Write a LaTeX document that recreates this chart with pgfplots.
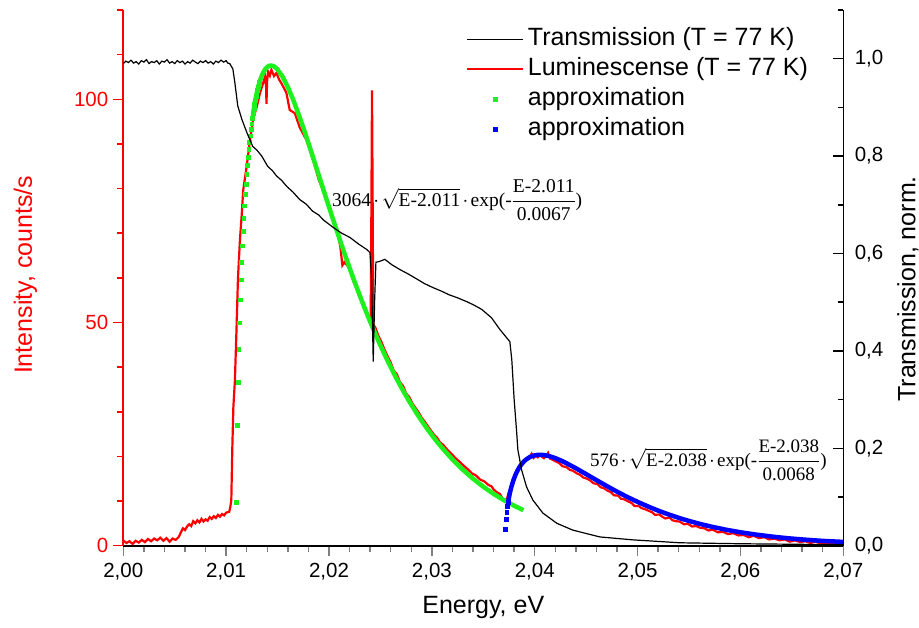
\documentclass[border=0pt]{standalone}
\usepackage{pgfplots}
\pgfplotsset{compat=1.18}
\usepackage{fontspec}
\setmainfont{Liberation Sans}
\newfontfamily\tms{Liberation Serif}
\definecolor{fitgreen}{RGB}{30,240,30}
\definecolor{fitblue}{RGB}{0,0,255}
\newcommand{\cd}{\mkern2mu{\cdot}\mkern2mu}
\pgfplotsset{dotlegend/.style={legend image code/.code={\draw[##1] plot coordinates {(28bp,0bp)};}}}
\begin{document}
\begin{tikzpicture}
\path[use as bounding box] (-123.3bp,-82.3bp) rectangle (795.7bp,545.7bp);
\begin{axis}[
  at={(0,0)}, anchor=south west,
  scale only axis, width=720bp, height=535.7bp,
  xmin=2, xmax=2.07, ymin=0, ymax=120,
  axis x line*=bottom, axis y line*=left,
  axis line style={-, line width=1.6bp},
  y axis line style={red},
  tick align=outside,
  xtick={2,2.01,2.02,2.03,2.04,2.05,2.06,2.07},
  minor x tick num=4,
  ytick={0,50,100},
  minor ytick={10,20,30,40,60,70,80,90,110,120},
  major tick length=10bp, minor tick length=6bp,
  tick style={line width=1.5bp},
  ytick style={red},
  scaled ticks=false,
  /pgf/number format/assume math mode=true,
  tick label style={font=\fontsize{20.5bp}{24bp}\selectfont},
  xticklabel style={/pgf/number format/fixed, /pgf/number format/fixed zerofill, /pgf/number format/precision=2, /pgf/number format/use comma, yshift=-4bp},
  yticklabel style={red, xshift=-1.5bp},
  xlabel={Energy, eV}, ylabel={Intensity, counts/s},
  every axis x label/.style={at={(axis description cs:0.5,0)}, anchor=center, yshift=-62bp, font=\fontsize{25bp}{30bp}\selectfont},
  every axis y label/.style={at={(axis description cs:0,0.5)}, anchor=center, rotate=90, yshift=98bp, xshift=3bp, red, font=\fontsize{25bp}{30bp}\selectfont},
  legend image code/.code={\draw[#1] (0bp,0bp) -- (56bp,0bp);},
  legend cell align=left,
  legend style={draw=none, fill=none, at={(0.476,0.974)}, anchor=north west, inner sep=0pt, row sep=0pt,
    font=\fontsize{25bp}{30bp}\selectfont,
    nodes={inner xsep=3.5bp, inner ysep=3.5bp, text height=18bp, text depth=5bp}},
]
\addlegendimage{black, line width=1.2bp}
\addlegendentry{Transmission (T = 77 K)}

\addplot[red, line width=2.2bp] coordinates {
(2.0000,1.2) (2.0003,0.6) (2.0006,1.0) (2.0009,0.4) (2.0012,1.1) (2.0015,0.7) (2.0018,1.3) (2.0021,0.8)
(2.0024,1.5) (2.0027,1.0) (2.0030,1.6) (2.0033,1.2) (2.0036,1.8) (2.0039,1.1) (2.0042,1.7) (2.0045,0.9)
(2.0048,1.6) (2.0051,1.3) (2.0054,2.0) (2.0056,3.0) (2.0058,3.9) (2.0060,3.5) (2.0062,4.3) (2.0064,4.8)
(2.0066,4.4) (2.0068,5.5) (2.0070,5.0) (2.0072,5.7) (2.0074,5.2) (2.0076,6.0) (2.0078,5.4) (2.0080,5.9)
(2.0082,5.6) (2.0084,6.4) (2.0086,6.0) (2.0088,6.6) (2.0090,6.2) (2.0092,6.9) (2.0094,6.5) (2.0096,7.1)
(2.0098,6.8) (2.0100,7.4) (2.0103,7.6) (2.0104,8.6) (2.0105,10.2) (2.0106,22) (2.0107,31) (2.01085,37)
(2.0110,48) (2.01115,60) (2.01134,68.5) (2.0115,73.7) (2.01166,79.7) (2.01199,84.9) (2.01232,90.9)
(2.01261,95.4) (2.01297,98.3) (2.01329,101.4) (2.01378,105) (2.01388,103) (2.01392,99) (2.01398,104)
(2.01407,106.2) (2.01425,105.3) (2.0144,106.6) (2.01465,105.2) (2.01489,105.9) (2.01515,104.4)
(2.01537,103.6) (2.01560,102.6) (2.01586,101.4) (2.01618,97.6) (2.01667,96.9) (2.01715,93.7)
(2.01780,90.9) (2.01845,86.4) (2.0190,82.0) (2.0193,80.3) (2.0196,78.2) (2.0199,76.9) (2.0202,74.3)
(2.0205,72.0) (2.0208,70.3) (2.0211,67.0) (2.0213,62.8) (2.0215,63.5) (2.0218,62.7) (2.0221,61.3)
(2.0224,59.1) (2.0227,57.8) (2.0230,55.4) (2.0233,54.6) (2.0236,52.2) (2.0239,51.0) (2.02405,50.0)
(2.02412,75) (2.02418,102) (2.02424,78) (2.02430,49.5) (2.0245,48.9) (2.0248,47.0) (2.0251,45.6)
(2.0254,43.9) (2.0257,42.4) (2.0260,41.0) (2.0263,39.2) (2.0266,38.4) (2.0269,36.6) (2.0272,35.8)
(2.0275,34.1) (2.0278,33.3) (2.0281,31.9) (2.0284,30.9) (2.0287,29.9) (2.0290,28.7) (2.0293,27.8)
(2.0296,26.8) (2.0299,25.8) (2.0302,24.9) (2.0305,24.2) (2.0308,23.1) (2.0311,22.6) (2.0315,21.5)
(2.0319,20.6) (2.0323,19.6) (2.0327,18.8) (2.0331,17.9) (2.0335,17.1) (2.0339,16.2) (2.0343,15.7)
(2.0347,14.8) (2.0351,14.4) (2.0355,13.6) (2.0358,13.3) (2.0360,12.6) (2.0363,12.0) (2.0366,11.6)
(2.0369,10.5) (2.0371,9.9) (2.0373,10.6) (2.0375,12.0) (2.0377,13.2) (2.0380,15.2) (2.0383,16.6)
(2.0386,17.8) (2.0389,18.6) (2.0392,19.4) (2.0395,19.9) (2.0397,20.6) (2.0399,19.7) (2.0401,20.2)
(2.0403,19.8) (2.0405,20.4) (2.0407,19.9) (2.0409,19.6) (2.0411,20.1) (2.0413,20.8) (2.0415,19.5)
(2.0418,19.2) (2.0421,18.8) (2.0424,18.5) (2.0427,17.8) (2.0431,17.6) (2.0434,17.0) (2.0437,16.8)
(2.0441,16.2) (2.0444,15.9) (2.0447,15.3) (2.0451,15.0) (2.0454,14.6) (2.0457,14.0) (2.0461,13.8)
(2.0464,13.1) (2.0467,12.9) (2.0471,12.3) (2.0474,12.0) (2.0477,11.3) (2.0481,11.2) (2.0484,10.5)
(2.0487,10.4) (2.0491,9.9) (2.0494,9.6) (2.0497,8.9) (2.0501,8.9) (2.0504,8.4) (2.0507,8.2)
(2.0511,7.8) (2.0514,7.5) (2.0517,6.9) (2.0521,7.0) (2.0524,6.5) (2.0527,6.1) (2.0531,6.3)
(2.0534,5.7) (2.0537,5.5) (2.0541,5.4) (2.0545,4.8) (2.0549,4.9) (2.0553,4.3) (2.0557,4.4)
(2.0561,4.0) (2.0565,3.9) (2.0569,3.4) (2.0573,3.6) (2.0578,3.0) (2.0583,3.1) (2.0588,2.6)
(2.0593,2.8) (2.0598,2.3) (2.0603,2.4) (2.0608,1.9) (2.0613,2.2) (2.0618,1.7) (2.0623,1.9)
(2.0628,1.4) (2.0633,1.6) (2.0638,1.2) (2.0643,1.4) (2.0648,0.9) (2.0653,1.2) (2.0658,0.8)
(2.0663,1.0) (2.0668,0.6) (2.0673,0.9) (2.0678,0.5) (2.0683,0.7) (2.0688,0.4) (2.0693,0.6) (2.0700,0.4)
};
\addlegendentry{Luminescense (T = 77 K)}

\addplot[fitgreen, line width=4.5bp, forget plot] coordinates {
(2.0126,96.52) (2.0128,99.37) (2.0130,101.67) (2.0132,103.49) (2.0134,104.91) (2.0136,105.98)
(2.0138,106.75) (2.0140,107.25) (2.0142,107.51) (2.0144,107.56) (2.0146,107.42) (2.0148,107.12)
(2.0150,106.67) (2.0155,105.00) (2.0160,102.72) (2.0165,99.99) (2.0170,96.92) (2.0175,93.62)
(2.0180,90.18) (2.0185,86.64) (2.0190,83.04) (2.0195,79.44) (2.0200,75.86) (2.0205,72.34)
(2.0210,68.88) (2.0215,65.51) (2.0220,62.23) (2.0225,59.05) (2.0230,55.98) (2.0235,53.03)
(2.0240,50.19) (2.0245,47.47) (2.0250,44.86) (2.0255,42.37) (2.0260,39.99) (2.0265,37.73)
(2.0270,35.58) (2.0275,33.53) (2.0280,31.59) (2.0285,29.75) (2.0290,28.00) (2.0295,26.34)
(2.0300,24.78) (2.0305,23.30) (2.0310,21.90) (2.0320,19.33) (2.0330,17.04) (2.0340,15.01)
(2.0350,13.21) (2.0360,11.61) (2.0370,10.20) (2.0380,8.95) (2.0389,7.96)
};
\addplot[fitgreen, only marks, mark=square*, mark size=1.9bp, dotlegend] coordinates {
(2.01101,9.67) (2.01108,27.08) (2.01115,36.69) (2.01122,43.98) (2.01129,49.97) (2.01136,55.09)
(2.01143,59.59) (2.01150,63.59) (2.01157,67.19) (2.01164,70.45) (2.01171,73.43) (2.01178,76.17)
(2.01185,78.69) (2.01192,81.01) (2.01199,83.16) (2.01206,85.16) (2.01213,87.01) (2.01220,88.74)
(2.01227,90.34) (2.01234,91.83) (2.01241,93.22) (2.01248,94.51) (2.01255,95.72) (2.01262,96.84)
(2.01269,97.88) (2.01276,98.85) (2.01283,99.75) (2.01290,100.58) (2.01297,101.35) (2.01304,102.06)
(2.01311,102.72) (2.01318,103.33) (2.01325,103.88)
};
\addlegendentry{approximation}

\addplot[fitblue, line width=4.5bp, forget plot] coordinates {
(2.03742,9.83) (2.03749,10.74) (2.03756,11.55) (2.03763,12.27) (2.0377,12.92) (2.0379,14.48)
(2.0381,15.72) (2.0383,16.73) (2.0385,17.54) (2.0387,18.21) (2.0389,18.75) (2.0391,19.20)
(2.0395,19.83) (2.0399,20.19) (2.0403,20.35) (2.0407,20.36) (2.0411,20.23) (2.0416,19.94)
(2.0421,19.52) (2.0426,19.03) (2.0431,18.46) (2.0441,17.22) (2.0451,15.89) (2.0461,14.55)
(2.0471,13.24) (2.0481,11.98) (2.0491,10.80) (2.0501,9.71) (2.0511,8.70) (2.0521,7.77)
(2.0531,6.93) (2.0541,6.16) (2.0551,5.48) (2.0561,4.86) (2.0571,4.30) (2.0586,3.58)
(2.0601,2.97) (2.0616,2.46) (2.0631,2.03) (2.0646,1.67) (2.0661,1.38) (2.0672,1.195)
(2.0682,1.05) (2.0700,0.85)
};
\addplot[fitblue, only marks, mark=square*, mark size=1.9bp, dotlegend] coordinates {
(2.03714,3.62) (2.03721,5.94) (2.03728,7.53) (2.03735,8.78) (2.03742,9.83)
};
\addlegendentry{approximation}

\node[anchor=west, inner sep=0pt, font=\fontsize{19.5bp}{23bp}\selectfont\tms] at (axis cs:2.02029,77.4)
  {$\mbox{3064}\cd\sqrt{\mbox{E-2.011}}\cd\mbox{exp(-}{\displaystyle\frac{\mbox{E-2.011}}{\mbox{0.0067}}}\mbox{)}$};
\node[anchor=west, inner sep=0pt, font=\fontsize{19bp}{23bp}\selectfont\tms] at (axis cs:2.04537,19.2)
  {$\mbox{576}\cd\sqrt{\mbox{E-2.038}}\cd\mbox{exp(-}{\displaystyle\frac{\mbox{E-2.038}}{\mbox{0.0068}}}\mbox{)}$};
\end{axis}

\begin{axis}[
  at={(0,0)}, anchor=south west,
  scale only axis, width=720bp, height=535.7bp,
  xmin=2, xmax=2.07, ymin=0, ymax=1.1,
  axis x line=none, axis y line*=right,
  axis line style={-, line width=1.6bp},
  tick align=inside,
  ytick={0,0.2,0.4,0.6,0.8,1.0},
  minor ytick={0.1,0.3,0.5,0.7,0.9,1.1},
  major tick length=10bp, minor tick length=5bp,
  tick style={line width=1.5bp, black},
  scaled ticks=false,
  /pgf/number format/assume math mode=true,
  yticklabel style={font=\fontsize{20.5bp}{24bp}\selectfont, /pgf/number format/fixed, /pgf/number format/fixed zerofill, /pgf/number format/precision=1, /pgf/number format/use comma, xshift=8bp},
  ylabel={Transmission, norm.},
  every axis y label/.style={at={(axis description cs:1,0.5)}, anchor=center, rotate=90, yshift=-64.7bp, xshift=-11bp, font=\fontsize{25bp}{30bp}\selectfont},
]
\addplot[black, line width=1.2bp] coordinates {
(2.0000,0.990) (2.00025,0.995) (2.0005,0.992) (2.00075,0.997) (2.0010,0.991) (2.00125,0.994)
(2.0015,0.989) (2.00175,0.996) (2.0020,0.993) (2.00225,0.998) (2.0025,0.990) (2.00275,0.994)
(2.0030,0.992) (2.00325,0.996) (2.0035,0.989) (2.00375,0.995) (2.0040,0.993) (2.00425,0.998)
(2.0045,0.991) (2.00475,0.994) (2.0050,0.990) (2.00525,0.996) (2.0055,0.992) (2.00575,0.995)
(2.0060,0.989) (2.00625,0.994) (2.0065,0.991) (2.00675,0.997) (2.0070,0.993) (2.00725,0.990)
(2.0075,0.995) (2.00775,0.992) (2.0080,0.996) (2.00825,0.991) (2.0085,0.994) (2.00875,0.989)
(2.0090,0.995) (2.00925,0.992) (2.0095,0.997) (2.00975,0.993) (2.0100,0.996) (2.01015,0.991)
(2.01035,0.990) (2.01065,0.979) (2.01084,0.952)
(2.01113,0.903) (2.01152,0.876) (2.01200,0.849) (2.01258,0.820) (2.01300,0.812) (2.01346,0.800)
(2.01404,0.779) (2.01450,0.770) (2.01491,0.759) (2.01540,0.750) (2.01588,0.738) (2.01650,0.726)
(2.01714,0.711) (2.01780,0.701) (2.01840,0.687) (2.0190,0.679) (2.0195,0.668) (2.02038,0.654)
(2.0212,0.642) (2.02203,0.633) (2.0229,0.619) (2.02368,0.608) (2.02398,0.602) (2.02414,0.55)
(2.0243,0.378) (2.02443,0.50) (2.02456,0.582) (2.02495,0.584) (2.02543,0.588) (2.0261,0.577)
(2.02689,0.567) (2.0277,0.558) (2.0285,0.548) (2.0293,0.538) (2.0301,0.530) (2.0309,0.523)
(2.0317,0.515) (2.0325,0.509) (2.0334,0.501) (2.0341,0.494) (2.03486,0.485) (2.0358,0.468)
(2.03661,0.444) (2.03758,0.419)
(2.03777,0.382) (2.03800,0.300) (2.03823,0.237) (2.03836,0.197) (2.03872,0.156) (2.0392,0.121)
(2.03981,0.094) (2.04079,0.067) (2.04215,0.046) (2.0437,0.032) (2.04633,0.018) (2.04953,0.012)
(2.0541,0.006) (2.0600,0.004) (2.0650,0.003) (2.0700,0.002)
};
\end{axis}
\end{tikzpicture}
\end{document}
